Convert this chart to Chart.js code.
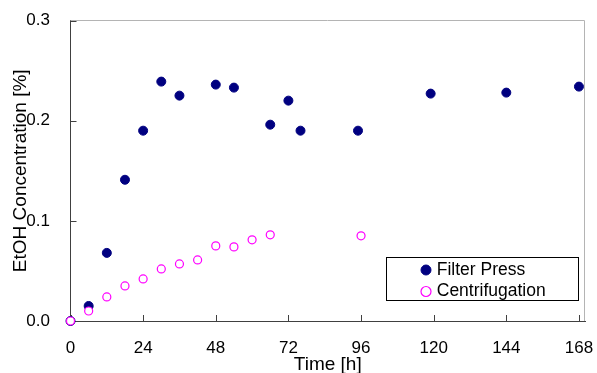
<!DOCTYPE html>
<html><head><meta charset="utf-8">
<script src="https://cdn.jsdelivr.net/npm/chart.js@4"></script>
<style>html,body{margin:0;padding:0;background:#fff;}#wrap{width:597px;height:373px;}</style>
</head><body><div id="wrap"><canvas id="c" width="597" height="373"></canvas></div>
<script>
const seriesNames = ['Filter Press', 'Centrifugation'];
const filterTime = [0, 6, 12, 18, 24, 30, 36, 48, 54, 66, 72, 76, 95, 119, 144, 168];
const filterEtOH = [0.0, 0.015, 0.068, 0.141, 0.190, 0.239, 0.225, 0.236, 0.233, 0.196, 0.220, 0.190, 0.190, 0.227, 0.228, 0.234];
const centTime = [0, 6, 12, 18, 24, 30, 36, 42, 48, 54, 60, 66, 96];
const centEtOH = [0.0, 0.010, 0.024, 0.035, 0.042, 0.052, 0.057, 0.061, 0.075, 0.074, 0.081, 0.086, 0.085];
const xTicks = [0, 24, 48, 72, 96, 120, 144, 168];
const yTicks = [0.0, 0.1, 0.2, 0.3];
const xTitle = 'Time [h]';
const yTitle = 'EtOH Concentration [%]';

Chart.defaults.font.family = "'Liberation Sans', Arial, sans-serif";
Chart.defaults.color = '#000';

const toPts = (xs, ys) => xs.map((x, i) => ({x: x, y: ys[i]}));

const framePlugin = {
  id: 'frame',
  afterLayout(chart) {
    const lg = chart.legend, a = chart.chartArea;
    if (!lg) return;
    lg.left = a.right - 165;
    lg.top = a.bottom - 63.75;
    lg.right = lg.left + lg.width;
    lg.bottom = lg.top + 60;
  },
  beforeDatasetsDraw(chart) {
    const {ctx, chartArea: a, scales} = chart;
    ctx.save();
    ctx.lineWidth = 1;
    ctx.strokeStyle = '#b4b4b4';
    ctx.beginPath();
    ctx.moveTo(a.left, a.top);
    ctx.lineTo(a.right - 0.5, a.top);
    ctx.lineTo(a.right - 0.5, a.bottom);
    ctx.stroke();
    ctx.strokeStyle = '#404040';
    ctx.beginPath();
    scales.x.ticks.forEach(t => {
      const px = Math.round(scales.x.getPixelForValue(t.value)) + 0.5;
      ctx.moveTo(px, a.bottom);
      ctx.lineTo(px, a.bottom - 6);
    });
    scales.y.ticks.forEach(t => {
      const py = Math.round(scales.y.getPixelForValue(t.value)) + 0.5;
      ctx.moveTo(a.left, py);
      ctx.lineTo(a.left + 6, py);
    });
    ctx.stroke();
    ctx.restore();
  },
  afterDraw(chart) {
    const {ctx, chartArea: a} = chart;
    ctx.save();
    ctx.strokeStyle = '#000';
    ctx.lineWidth = 1;
    ctx.strokeRect(Math.round(a.right - 199) + 0.5, Math.round(a.bottom - 64) + 0.5, 192, 43);
    ctx.restore();
  }
};

new Chart(document.getElementById('c'), {
  type: 'scatter',
  data: {
    datasets: [
      {
        label: seriesNames[0],
        data: toPts(filterTime, filterEtOH),
        backgroundColor: '#000080',
        borderColor: '#000080',
        borderWidth: 1,
        pointRadius: 4.5,
        order: 1,
        clip: false
      },
      {
        label: seriesNames[1],
        data: toPts(centTime, centEtOH),
        backgroundColor: '#ffffff',
        borderColor: '#ff00ff',
        borderWidth: 1.2,
        pointRadius: 4,
        order: 0,
        clip: false
      }
    ]
  },
  options: {
    responsive: false,
    animation: false,
    devicePixelRatio: 1,
    layout: {padding: {top: 20.5, right: 12, bottom: 0, left: 0}},
    plugins: {
      tooltip: {enabled: false},
      legend: {
        position: 'chartArea',
        align: 'start',
        labels: {
          usePointStyle: true,
          boxWidth: 4,
          boxHeight: 7.07,
          padding: 4,
          color: '#000',
          font: {size: 17.5},
          sort: (a, b) => a.datasetIndex - b.datasetIndex
        }
      }
    },
    scales: {
      x: {
        type: 'linear',
        min: 0,
        max: 170,
        afterBuildTicks: s => { s.ticks = xTicks.map(v => ({value: v})); },
        afterFit: s => { s.height = 52; s.paddingLeft = 0; s.paddingRight = 0; },
        grid: {display: false, drawTicks: false},
        border: {display: true, color: '#404040', width: 1},
        ticks: {padding: 17.4, font: {size: 17}, color: '#000', maxRotation: 0, autoSkip: false, callback: v => String(v)},
        title: {display: true, text: xTitle, font: {size: 19}, color: '#000', padding: {top: 0, bottom: -2.8}}
      },
      y: {
        type: 'linear',
        min: 0,
        max: 0.3,
        afterBuildTicks: s => { s.ticks = yTicks.map(v => ({value: v})); },
        afterFit: s => { s.width = 70.5; s.paddingTop = 0; s.paddingBottom = 0; },
        grid: {display: false, drawTicks: false},
        border: {display: true, color: '#404040', width: 1},
        ticks: {padding: 20.5, font: {size: 17}, color: '#000', autoSkip: false, callback: v => v.toFixed(1)},
        title: {display: true, text: yTitle, font: {size: 19}, color: '#000', padding: {top: 9.3, bottom: 0}}
      }
    }
  },
  plugins: [framePlugin]
});
</script>
</body></html>
